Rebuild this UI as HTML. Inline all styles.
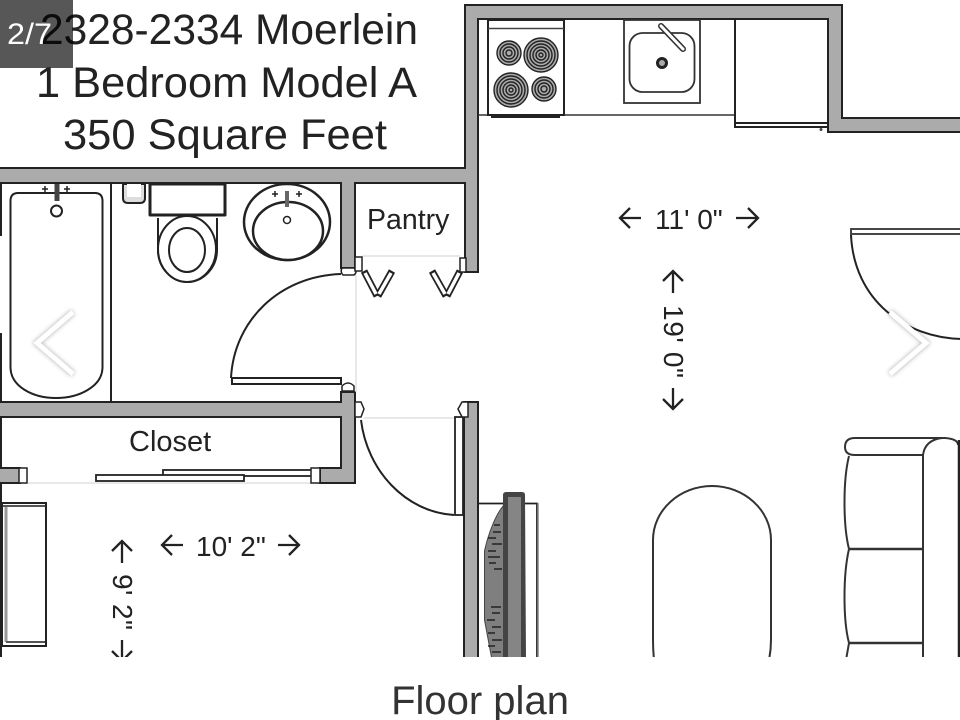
<!DOCTYPE html>
<html>
<head>
<meta charset="utf-8">
<style>
html,body{margin:0;padding:0;background:#fff;width:960px;height:720px;overflow:hidden}
svg{display:block;position:absolute;left:0;top:0}
text{font-family:"Liberation Sans",sans-serif}
</style>
</head>
<body>
<svg width="960" height="720" viewBox="0 0 960 720">
<defs>
  <clipPath id="c"><rect x="0" y="0" width="960" height="657"/></clipPath>
  <filter id="s" x="-30%" y="-30%" width="160%" height="160%"><feGaussianBlur stdDeviation="2"/></filter>
</defs>
<rect width="960" height="720" fill="#fff"/>
<g clip-path="url(#c)" style="filter:blur(0.35px)">
  <!-- walls -->
  <g fill="#ababab" stroke="#222" stroke-width="2">
    <path d="M-2 168H465V5H842V118H962V132H828V19H478V272H465V183H355V268H341V183H-2Z"/>
    <path d="M-2 402H341V392H355V483H320V468H341V417H-2Z"/>
    <rect x="-2" y="468" width="22" height="15"/>
    <rect x="464" y="402" width="14" height="260"/>
  </g>
  <!-- faint thresholds -->
  <g stroke="#e0e0e0" stroke-width="1.500" fill="none">
    <path d="M356 275V392M362 256H460M364 418H456M28 483H312"/>
  </g>
  <!-- outer left line -->
  <path d="M1 183V236M1 333V402M1 417V468M1 483V660" stroke="#222" stroke-width="2" fill="none"/>
  <g fill="#fff" stroke="#222" stroke-width="2" stroke-linejoin="round">
    <!-- tub -->
    <path d="M10.500 201Q10.500 193 18 193H95Q102.500 193 102.500 201V368C102 386 80 398 56 398C32 398 11 386 10.500 368Z"/>
    <circle cx="56.500" cy="211" r="5.500"/>
    <!-- toilet -->
    <rect x="150" y="184" width="75" height="31" stroke-width="3"/>
    <path d="M158 218V250C158 268 172 282 187 282C203 282 217 268 217 250V218" fill="#fff"/>
    <ellipse cx="187" cy="249" rx="29" ry="33"/>
    <ellipse cx="187" cy="250" rx="18" ry="22"/>
    <path d="M123 184H145V198Q145 203 140 203H128Q123 203 123 198Z" fill="#ddd" stroke-width="2"/>
    <path d="M127 184H141V197H127Z" fill="#fff" stroke="none"/>
    <!-- wash basin -->
    <ellipse cx="287" cy="222" rx="43" ry="38" stroke-width="2.500"/>
    <ellipse cx="288" cy="231" rx="35" ry="29" stroke-width="2.500"/>
    <circle cx="287" cy="220" r="3.500" stroke-width="1.500"/>
  </g>
  <path d="M111 183V402" stroke="#222" stroke-width="2"/>
  <path d="M57 184V201" stroke="#444" stroke-width="5"/>
  <path d="M287 191V207" stroke="#666" stroke-width="4"/>
  <path d="M42 189H48M45 186V192M64 189H70M67 186V192M272 194H278M275 191V197M296 194H302M299 191V197" stroke="#222" stroke-width="1.500"/>
  <!-- bath door -->
  <path d="M341 274C280 276 234 320 231 378" fill="none" stroke="#222" stroke-width="2"/>
  <rect x="232" y="378" width="109" height="6" fill="#fff" stroke="#222" stroke-width="2"/>
  <path d="M342 268H354Q358 272 354 275H343Q340 272 342 268Z" fill="#fff" stroke="#222" stroke-width="1.500"/>
  <path d="M342 391V386Q348 380 354 386V391Z" fill="#fff" stroke="#222" stroke-width="1.500"/>
  <!-- pantry door leaves -->
  <g fill="none" stroke="#222" stroke-width="7">
    <line x1="364" y1="271" x2="377" y2="296"/>
    <line x1="392" y1="271" x2="378" y2="296"/>
    <line x1="432" y1="271" x2="446" y2="296"/>
    <line x1="460" y1="271" x2="447" y2="296"/>
  </g>
  <g fill="none" stroke="#fff" stroke-width="3.500">
    <line x1="365" y1="273" x2="376" y2="294"/>
    <line x1="391" y1="273" x2="379" y2="294"/>
    <line x1="433" y1="273" x2="445" y2="294"/>
    <line x1="459" y1="273" x2="448" y2="294"/>
  </g>
  <rect x="355" y="257" width="7" height="14" fill="#fff" stroke="#222" stroke-width="1.500"/>
  <rect x="460" y="258" width="6" height="14" fill="#fff" stroke="#222" stroke-width="1.500"/>
  <!-- front door -->
  <path d="M361 420C367 470 405 512 454 515" fill="none" stroke="#222" stroke-width="2"/>
  <rect x="455" y="417" width="8" height="98" fill="#fff" stroke="#222" stroke-width="1.800"/>
  <path d="M355 402H361L364 409L361 417H355Z" fill="#fff" stroke="#222" stroke-width="1.500"/>
  <path d="M468 402H462L458 409L462 417H468Z" fill="#fff" stroke="#222" stroke-width="1.500"/>
  <!-- closet doors -->
  <rect x="163" y="470" width="149" height="6" fill="#fff" stroke="#222" stroke-width="1.800"/>
  <rect x="96" y="475" width="148" height="6" fill="#fff" stroke="#222" stroke-width="1.800"/>
  <rect x="19" y="468" width="8" height="15" fill="#fff" stroke="#222" stroke-width="1.500"/>
  <rect x="311" y="468" width="9" height="15" fill="#fff" stroke="#222" stroke-width="1.500"/>
  <!-- dresser -->
  <rect x="2" y="503" width="44" height="143" fill="#fff" stroke="#222" stroke-width="2"/>
  <path d="M6 505V642" stroke="#999" stroke-width="3"/>
  <path d="M3 506H45M6 642H45" stroke="#555" stroke-width="2"/>
  <!-- kitchen -->
  <path d="M478 115H735" stroke="#333" stroke-width="1.500"/>
  <rect x="488" y="20" width="76" height="95" fill="#fff" stroke="#222" stroke-width="2"/>
  <path d="M488 28.500H564" stroke="#444" stroke-width="1.500"/>
  <path d="M491 116.500H560" stroke="#222" stroke-width="3"/>
  <g fill="#aaa" stroke="#222" stroke-width="1.400">
    <circle cx="509" cy="53" r="12"/><circle cx="509" cy="53" r="9"/><circle cx="509" cy="53" r="6"/><circle cx="509" cy="53" r="3"/>
    <circle cx="541" cy="55" r="17"/><circle cx="541" cy="55" r="14"/><circle cx="541" cy="55" r="11"/><circle cx="541" cy="55" r="8"/><circle cx="541" cy="55" r="5"/><circle cx="541" cy="55" r="2"/>
    <circle cx="511" cy="90" r="17"/><circle cx="511" cy="90" r="14"/><circle cx="511" cy="90" r="11"/><circle cx="511" cy="90" r="8"/><circle cx="511" cy="90" r="5"/><circle cx="511" cy="90" r="2"/>
    <circle cx="544" cy="89" r="12"/><circle cx="544" cy="89" r="9"/><circle cx="544" cy="89" r="6"/><circle cx="544" cy="89" r="3"/>
  </g>
  <rect x="624" y="20" width="76" height="83" fill="#fff" stroke="#333" stroke-width="1.800"/>
  <rect x="629.500" y="33" width="65" height="59" rx="13" fill="#fff" stroke="#333" stroke-width="1.800"/>
  <circle cx="662" cy="63" r="4.500" fill="#aaa" stroke="#222" stroke-width="3"/>
  <path d="M661 26L683 49" stroke="#333" stroke-width="6" stroke-linecap="round"/>
  <path d="M661 26L683 49" stroke="#fff" stroke-width="3" stroke-linecap="round"/>
  <path d="M735 20V127H828M735 123H828" fill="none" stroke="#222" stroke-width="2"/>
  <circle cx="821" cy="129.500" r="1.500" fill="#444"/>
  <!-- right closet door -->
  <rect x="851" y="229" width="112" height="5" fill="#fff" stroke="#333" stroke-width="1.800"/>
  <path d="M851 235C854 300 905 338 962 339" fill="none" stroke="#222" stroke-width="2"/>
  <!-- TV stand -->
  <path d="M478 503.500H537V660" fill="none" stroke="#222" stroke-width="1.800"/>
  <path d="M538 503V660" stroke="#888" stroke-width="1.500"/>
  <path d="M504 505C495 515 488 535 484.500 551V620L492 660H505V505Z" fill="#7f7f7f" stroke="#444" stroke-width="1"/>
  <path d="M500 525h-6M501 532h-8M496 538h-8M502 544h-10M496 551h-8M500 557h-12M496 563h-7M502 569h-8M501 607h-10M500 613h-8M495 620h-8M501 627h-9M495 633h-7M502 640h-10M495 646h-7M501 652h-9" stroke="#222" stroke-width="1.500" fill="none"/>
  <path d="M503 495Q503 492 506 492H522Q525 492 525 495L526 660H503Z" fill="#444"/>
  <rect x="508" y="497" width="13" height="165" fill="#858585"/>
  <!-- table -->
  <path d="M654 660C653 650 653 645 653 640V540C653 510 680 486 712 486C744 486 771 510 771 540V640C771 645 771 650 769 660" fill="none" stroke="#333" stroke-width="2"/>
  <!-- sofa -->
  <path d="M855 438H945Q958 439 958 445" fill="none" stroke="#333" stroke-width="2"/>
  <path d="M930 438H855Q845 438 845 447Q845 455 855 455H923" fill="none" stroke="#333" stroke-width="2"/>
  <path d="M923 455V660M923 455Q925 440 942 438" fill="none" stroke="#333" stroke-width="2"/>
  <path d="M849 456C843 480 843 525 849 549C843 575 843 620 849 643L846 660" fill="none" stroke="#333" stroke-width="2"/>
  <path d="M849 549H923M849 643H923" stroke="#333" stroke-width="2.500"/>
  <path d="M959 440V660" stroke="#222" stroke-width="2.500"/>
  <!-- dimension arrows -->
  <g fill="none" stroke="#222" stroke-width="2.300">
    <path d="M641 218H620M630 208L620 218L630 228"/>
    <path d="M736 218H758M748 208L758 218L748 228"/>
    <path d="M673 293V271M663 281L673 271L683 281"/>
    <path d="M673 388V409M663 399L673 409L683 399"/>
    <path d="M183 545H162M172 535L162 545L172 555"/>
    <path d="M278 545H299M289 535L299 545L289 555"/>
    <path d="M122 563V541M112 551L122 541L132 551"/>
    <path d="M122 640V661M112 651L122 661L132 651"/>
  </g>
  <g fill="#222">
    <text x="655" y="229" font-size="28">11' 0"</text>
    <text x="196" y="556" font-size="28">10' 2"</text>
    <text transform="translate(664 305) rotate(90)" font-size="28" textLength="73">19' 0"</text>
    <text transform="translate(113 574) rotate(90)" font-size="28" textLength="56">9' 2"</text>
    <text x="367" y="229" font-size="28.500">Pantry</text>
    <text x="129" y="451" font-size="29">Closet</text>
    <text x="40" y="44" font-size="42.500" textLength="378" lengthAdjust="spacingAndGlyphs">2328-2334 Moerlein</text>
    <text x="36" y="97" font-size="42.500" textLength="381" lengthAdjust="spacingAndGlyphs">1 Bedroom Model A</text>
    <text x="63" y="149" font-size="42.500" textLength="324" lengthAdjust="spacingAndGlyphs">350 Square Feet</text>
  </g>
</g>
<!-- badge -->
<rect x="0" y="0" width="73" height="68" fill="#000" fill-opacity="0.66"/>
<text x="7" y="44" font-size="30" fill="#fff" textLength="45" lengthAdjust="spacingAndGlyphs">2/7</text>
<!-- chevrons -->
<g fill="none" stroke-linecap="butt" stroke-linejoin="miter">
  <path d="M73 312L37 343L73 374" stroke="#000" stroke-opacity="0.28" stroke-width="6" filter="url(#s)"/>
  <path d="M73 312L37 343L73 374" stroke="#fff" stroke-width="5"/>
  <path d="M890 312L926 343L890 374" stroke="#000" stroke-opacity="0.28" stroke-width="6" filter="url(#s)"/>
  <path d="M890 312L926 343L890 374" stroke="#fff" stroke-width="5"/>
</g>
<!-- caption -->
<text x="480" y="714" font-size="40" fill="#333" text-anchor="middle">Floor plan</text>
</svg>
</body>
</html>
